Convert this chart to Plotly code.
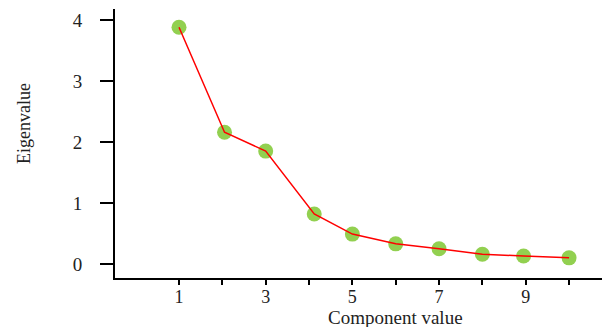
import plotly.graph_objects as go

component = [1, 2.05, 3, 4.12, 5, 6, 7, 8, 8.95, 10]
eigenvalue = [3.88, 2.16, 1.85, 0.82, 0.49, 0.33, 0.25, 0.16, 0.13, 0.10]
x_major_ticks = [1, 3, 5, 7, 9]
x_minor_ticks = [2, 4, 6, 8, 10]
y_ticks = [0, 1, 2, 3, 4]
x_title = "Component value"
y_title = "Eigenvalue"

font = "Liberation Serif, Times New Roman, serif"

fig = go.Figure()
fig.add_trace(go.Scatter(
    x=component, y=eigenvalue, mode="markers",
    marker=dict(size=15, color="#92D050", line=dict(width=0)),
    hoverinfo="skip", showlegend=False,
))
fig.add_trace(go.Scatter(
    x=component, y=eigenvalue, mode="lines",
    line=dict(color="#FF0000", width=1.5),
    showlegend=False,
))

fig.update_layout(
    width=602, height=327,
    margin=dict(l=115, r=0, t=9, b=49),
    paper_bgcolor="white", plot_bgcolor="white",
    font=dict(family=font, size=19, color="#222222"),
    xaxis=dict(
        range=[-0.477, 10.76],
        tickvals=x_major_ticks,
        tickfont=dict(size=18),
        ticks="outside", ticklen=5, tickwidth=2, tickcolor="black",
        showline=True, linecolor="black", linewidth=2,
        showgrid=False, zeroline=False,
        ticklabelstandoff=-4,
        minor=dict(tickvals=x_minor_ticks, ticks="outside", ticklen=5,
                   tickwidth=2, tickcolor="black", showgrid=False),
    ),
    yaxis=dict(
        range=[-0.23, 4.18],
        tickvals=y_ticks,
        ticks="outside", ticklen=13, tickwidth=2, tickcolor="black",
        showline=True, linecolor="black", linewidth=2,
        showgrid=False, zeroline=False,
        ticklabelstandoff=14,
    ),
    annotations=[
        dict(text=x_title, xref="paper", yref="paper",
             x=0.575, y=-0.145, xanchor="center", yanchor="middle",
             showarrow=False, font=dict(family=font, size=19, color="#222222")),
        dict(text=y_title, xref="paper", yref="paper",
             x=-0.187, y=0.576, xanchor="center", yanchor="middle",
             textangle=-90, showarrow=False,
             font=dict(family=font, size=18, color="#222222")),
    ],
)

fig.write_html("out.html", config={"displayModeBar": False},
               post_script="document.body.style.margin='0';")
